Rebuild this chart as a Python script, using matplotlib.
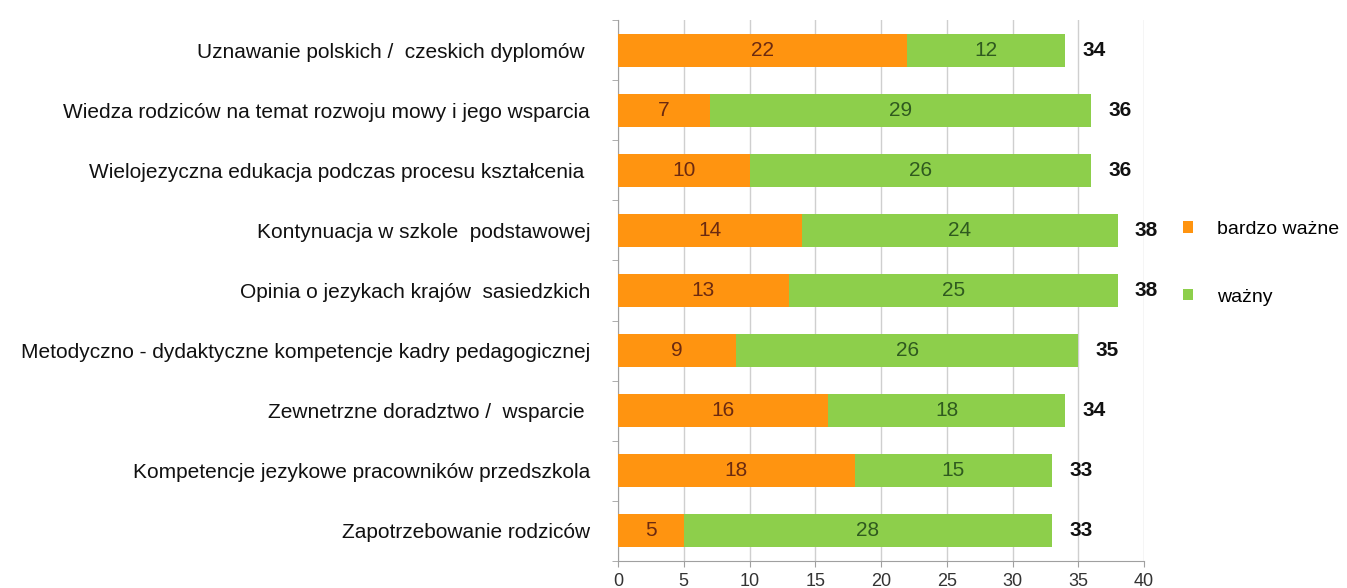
import matplotlib.pyplot as plt
import numpy as np

plt.rcParams['font.family'] = ['Liberation Sans', 'DejaVu Sans']

# Dane z wykresu (od góry do dołu)
kategorie = [
    'Uznawanie polskich /  czeskich dyplomów ',
    'Wiedza rodziców na temat rozwoju mowy i jego wsparcia',
    'Wielojezyczna edukacja podczas procesu kształcenia ',
    'Kontynuacja w szkole  podstawowej',
    'Opinia o jezykach krajów  sasiedzkich',
    'Metodyczno - dydaktyczne kompetencje kadry pedagogicznej',
    'Zewnetrzne doradztwo /  wsparcie ',
    'Kompetencje jezykowe pracowników przedszkola',
    'Zapotrzebowanie rodziców',
]
bardzo_wazne = [22, 7, 10, 14, 13, 9, 16, 18, 5]
wazny = [12, 29, 26, 24, 25, 26, 18, 15, 28]
etykiety_serii = ['bardzo ważne', 'ważny']

kolor_pom = '#ff9410'
kolor_ziel = '#8dcf4b'
szary = '#a0a0a0'

bw = np.array(bardzo_wazne)
wz = np.array(wazny)
suma = bw + wz
y = np.arange(len(kategorie))

fig = plt.figure(figsize=(13.47, 5.88), dpi=100)
ax = fig.add_axes([0.4588, 0.0459, 0.3905, 0.9201])

b1 = ax.barh(y, bw, height=0.55, color=kolor_pom, label=etykiety_serii[0], zorder=3)
b2 = ax.barh(y, wz, left=bw, height=0.55, color=kolor_ziel, label=etykiety_serii[1], zorder=3)

ax.bar_label(b1, labels=[str(v) for v in bw], label_type='center',
             color='#6b2a10', fontsize=15, zorder=4)
ax.bar_label(b2, labels=[str(v) for v in wz], label_type='center',
             color='#2f5a1f', fontsize=15, zorder=4)

# sumy na końcu słupków
for yi, s in zip(y, suma):
    ax.text(s + 1.3, yi, str(s), ha='left', va='center', fontsize=15,
            fontweight='bold', color='#111111', zorder=4)

ax.set_xlim(0, 40)
ax.set_ylim(len(kategorie) - 0.5, -0.5)
ax.set_xticks(np.arange(0, 41, 5))
ax.tick_params(axis='x', colors=szary, labelcolor='#333333', labelsize=13,
               length=4.5, pad=4)

# etykiety kategorii i kreski między wierszami
ax.set_yticks(y)
ax.set_yticklabels(kategorie, fontsize=15, color='#111111')
ax.tick_params(axis='y', which='major', length=0, pad=20)
ax.set_yticks(np.arange(-0.5, len(kategorie), 1), minor=True)
ax.tick_params(axis='y', which='minor', length=4.5, color=szary)

ax.grid(axis='x', color='#cfcfcf', linewidth=1, zorder=0)
for s in ['top', 'right']:
    ax.spines[s].set_visible(False)
for s in ['left', 'bottom']:
    ax.spines[s].set_color(szary)

fig.legend(handles=[b1, b2], labels=etykiety_serii, loc='upper left',
           bbox_to_anchor=(0.865, 0.654), frameon=False, fontsize=14,
           handlelength=0.55, handleheight=0.55, handletextpad=1.2,
           labelspacing=2.6)

fig.savefig('out.png', dpi=100)
